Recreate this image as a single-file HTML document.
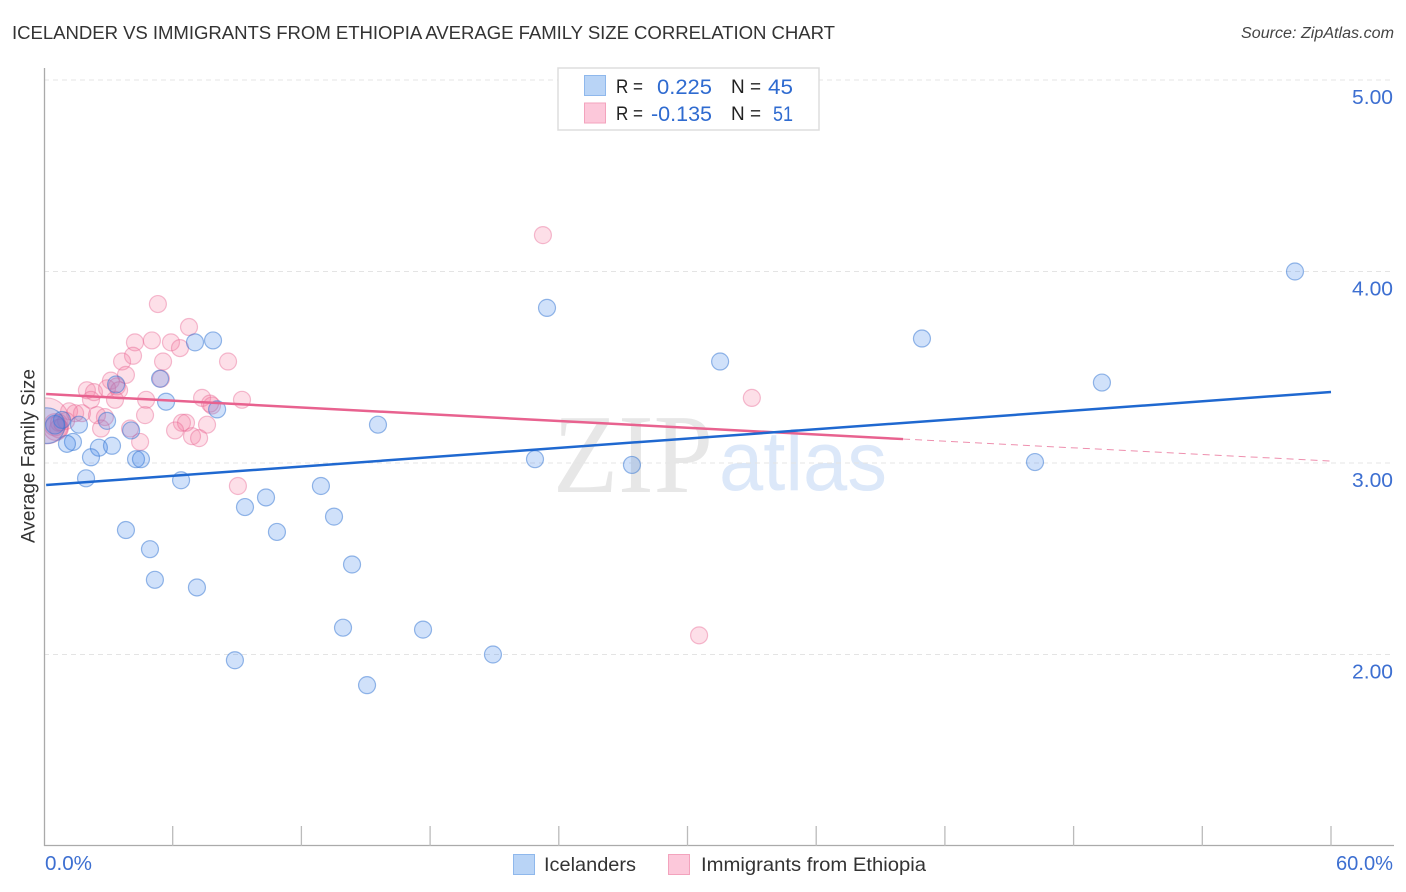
<!DOCTYPE html>
<html lang="en">
<head>
<meta charset="utf-8">
<title>Icelander vs Immigrants from Ethiopia Average Family Size Correlation Chart</title>
<style>
html,body{margin:0;padding:0;background:#fff;}
svg{display:block;}
text{font-family:"Liberation Sans",sans-serif;}
.tick{fill:#3d6fd1;font-size:20px;}
.leg{fill:#222;font-size:19.5px;}
.val{fill:#2f6bd0;font-size:21px;}
</style>
</head>
<body>
<svg id="chart" xmlns="http://www.w3.org/2000/svg" width="1406" height="892" viewBox="0 0 1406 892">
  <defs>
    <clipPath id="plot-clip"><rect x="45" y="60" width="1349" height="786"/></clipPath>
  </defs>
  <text x="12" y="39" font-size="18.6" fill="#333" textLength="823" lengthAdjust="spacing">ICELANDER VS IMMIGRANTS FROM ETHIOPIA AVERAGE FAMILY SIZE CORRELATION CHART</text>
  <text x="1241" y="38" font-size="15.5" font-style="italic" fill="#444" textLength="153" lengthAdjust="spacingAndGlyphs">Source: ZipAtlas.com</text>

  <g id="watermark">
    <text x="553" y="492" font-size="112" fill="#e7e7e7" textLength="160" lengthAdjust="spacingAndGlyphs" style="font-family:'Liberation Serif',serif">ZIP</text>
    <text x="719" y="490" font-size="84" fill="#dce8f9" textLength="168" lengthAdjust="spacingAndGlyphs">atlas</text>
  </g>

  <g id="grid"></g>
  <g id="axes"></g>
  <g id="yticks"></g>
  <g id="pink-points" clip-path="url(#plot-clip)"></g>
  <g id="blue-points" clip-path="url(#plot-clip)"></g>
  <g id="trends"></g>

  <text transform="translate(34.500,456) rotate(-90)" font-size="19" fill="#333" text-anchor="middle">Average Family Size</text>
  <text class="tick" x="45" y="870" textLength="47" lengthAdjust="spacingAndGlyphs">0.0%</text>
  <text class="tick" x="1336" y="870" textLength="57" lengthAdjust="spacingAndGlyphs">60.0%</text>

  <g>
    <rect x="558" y="68" width="261" height="62" fill="#fff" stroke="#ddd" stroke-width="1.5"/>
    <rect x="584.500" y="75.500" width="21" height="20" fill="#b9d4f6" stroke="#8fb8ec" stroke-width="1"/>
    <rect x="584.500" y="103" width="21" height="20" fill="#fcc8da" stroke="#f3a3bd" stroke-width="1"/>
    <text class="leg" x="616" y="93" textLength="27" lengthAdjust="spacingAndGlyphs">R =</text>
    <text class="val" x="657" y="94" textLength="55" lengthAdjust="spacingAndGlyphs">0.225</text>
    <text class="leg" x="731" y="93" textLength="30" lengthAdjust="spacingAndGlyphs">N =</text>
    <text class="val" x="768" y="94" textLength="25" lengthAdjust="spacingAndGlyphs">45</text>
    <text class="leg" x="616" y="120" textLength="27" lengthAdjust="spacingAndGlyphs">R =</text>
    <text class="val" x="651" y="121" textLength="61" lengthAdjust="spacingAndGlyphs">-0.135</text>
    <text class="leg" x="731" y="120" textLength="30" lengthAdjust="spacingAndGlyphs">N =</text>
    <text class="val" x="773" y="121" textLength="20" lengthAdjust="spacingAndGlyphs">51</text>
  </g>

  <g>
    <rect x="513.500" y="854.500" width="21" height="20" fill="#b9d4f6" stroke="#8fb8ec" stroke-width="1"/>
    <text x="544" y="871" font-size="19.5" fill="#333" textLength="92" lengthAdjust="spacingAndGlyphs">Icelanders</text>
    <rect x="668.500" y="854.500" width="21" height="20" fill="#fcc8da" stroke="#f3a3bd" stroke-width="1"/>
    <text x="701" y="871" font-size="19.5" fill="#333" textLength="225" lengthAdjust="spacingAndGlyphs">Immigrants from Ethiopia</text>
  </g>
</svg>
<script>
const yTickValues = [5, 4, 3, 2];
const yTickLabels = ['5.00', '4.00', '3.00', '2.00'];
const xTickValues = [6, 12, 18, 24, 30, 36, 42, 48, 54, 60];

const blueX = [58.32,23.45,40.93,31.52,49.32,7.88,7.04,5.41,3.36,5.69,8.07,2.94,1.63,15.57,0.84,4.06,0.51,1.35,1.07,2.56,3.17,2.19,4.29,4.52,22.89,27.41,46.2,1.96,6.39,12.91,10.35,9.37,13.52,3.82,10.86,4.94,14.36,5.17,7.13,13.94,17.67,20.93,8.9,15.06,0.14];
const blueY = [4.00,3.81,3.65,3.53,3.42,3.64,3.63,3.44,3.41,3.32,3.28,3.22,3.20,3.20,3.225,3.17,3.20,3.11,3.10,3.08,3.09,3.03,3.02,3.02,3.02,2.99,3.005,2.92,2.91,2.88,2.82,2.77,2.72,2.65,2.64,2.55,2.47,2.39,2.35,2.14,2.13,2.00,1.97,1.84,3.195];
const blueWeight = [1,1,1,1,1,1,1,1,1,1,1,1,1,1,1,1,1.1,1,1,1,1,1,1,1,1,1,1,1,1,1,1,1,1,1,1,1,1,1,1,1,1,1,1,1,2.1];

const pinkX = [23.26,5.31,6.76,4.24,5.03,5.92,6.34,4.15,3.64,5.55,8.58,3.82,3.12,5.45,2.0,2.33,2.94,3.40,3.5,4.76,7.37,9.23,33.0,2.19,3.31,7.83,7.74,1.17,1.45,1.77,2.47,2.84,4.71,6.43,6.62,7.6,6.11,6.9,7.23,4.01,2.66,4.48,9.04,30.54,0.1,0.51,0.7,0.7,0.55,1.03,0.75];
const pinkY = [4.19,3.83,3.71,3.63,3.64,3.63,3.60,3.56,3.53,3.53,3.53,3.46,3.43,3.44,3.38,3.37,3.39,3.40,3.38,3.33,3.34,3.33,3.34,3.33,3.33,3.30,3.31,3.27,3.26,3.26,3.25,3.24,3.25,3.21,3.21,3.20,3.17,3.14,3.13,3.18,3.18,3.11,2.88,2.10,3.22,3.20,3.21,3.18,3.18,3.22,3.20];
const pinkWeight = [1,1,1,1,1,1,1,1,1,1,1,1,1,1,1,1,1,1,1,1,1,1,1,1,1,1,1,1,1,1,1,1,1,1,1,1,1,1,1,1,1,1,1,1,2.7,1.3,1,1.1,1.4,1,0.7];

const blueTrendX = [0.1, 60];
const blueTrendY = [2.885, 3.371];
const pinkTrendX = [0.1, 40.05];
const pinkTrendY = [3.36, 3.125];
const pinkDashX = [40.05, 60];
const pinkDashY = [3.125, 3.01];

const NS = 'http://www.w3.org/2000/svg';
function xPx(v) { return 44 + v * 21.45; }
function yPx(v) { return 80 + (5 - v) * 191.5; }
function make(tag, attrs, parent) {
  const el = document.createElementNS(NS, tag);
  for (const k in attrs) el.setAttribute(k, attrs[k]);
  parent.appendChild(el);
  return el;
}

const gridG = document.getElementById('grid');
const yticksG = document.getElementById('yticks');
yTickValues.forEach(function (v, i) {
  const line = make('line', { x1: 44, x2: 1394, y1: yPx(v), y2: yPx(v), stroke: '#e4e4e4', 'stroke-width': 1, 'stroke-dasharray': '5 4' }, gridG);
  
  
  const t = make('text', { x: 1352, y: yPx(v) + 24, textLength: 41, lengthAdjust: 'spacingAndGlyphs', class: 'tick' }, yticksG);
  
  
  t.textContent = yTickLabels[i];
});

const axesG = document.getElementById('axes');
const yAxis = make('line', { x1: 44.5, x2: 44.5, y1: 68, y2: 846, stroke: '#aaa', 'stroke-width': 1.3 }, axesG);


const xAxis = make('line', { x1: 44, x2: 1394, y1: 845.5, y2: 845.5, stroke: '#aaa', 'stroke-width': 1.3 }, axesG);


xTickValues.forEach(function (v) {
  const tk = make('line', { x1: xPx(v), x2: xPx(v), y1: 826, y2: 846, stroke: '#bbb', 'stroke-width': 1.3 }, axesG);
  
  
});

function drawPoints(groupId, xs, ys, weights, fill, stroke) {
  const g = document.getElementById(groupId);
  xs.forEach(function (x, i) {
    const c = make('circle', { cx: xPx(x), cy: yPx(ys[i]), r: 8.5 * weights[i], fill: fill, stroke: stroke, 'stroke-width': 1.2 }, g);
    
    
  });
}
drawPoints('pink-points', pinkX, pinkY, pinkWeight, 'rgba(246,120,160,0.24)', 'rgba(232,100,145,0.42)');
drawPoints('blue-points', blueX, blueY, blueWeight, 'rgba(60,130,235,0.24)', 'rgba(50,115,210,0.5)');

const trendsG = document.getElementById('trends');
const dash = make('line', { x1: xPx(pinkDashX[0]), y1: yPx(pinkDashY[0]), x2: xPx(pinkDashX[1]), y2: yPx(pinkDashY[1]), stroke: '#ee8fae', 'stroke-width': 1, 'stroke-dasharray': '7 5' }, trendsG);


const pinkLine = make('line', { x1: xPx(pinkTrendX[0]), y1: yPx(pinkTrendY[0]), x2: xPx(pinkTrendX[1]), y2: yPx(pinkTrendY[1]), stroke: '#e8628f', 'stroke-width': 2.5 }, trendsG);


const blueLine = make('line', { x1: xPx(blueTrendX[0]), y1: yPx(blueTrendY[0]), x2: xPx(blueTrendX[1]), y2: yPx(blueTrendY[1]), stroke: '#1f68d0', 'stroke-width': 2.5 }, trendsG);


</script>
</body>
</html>
